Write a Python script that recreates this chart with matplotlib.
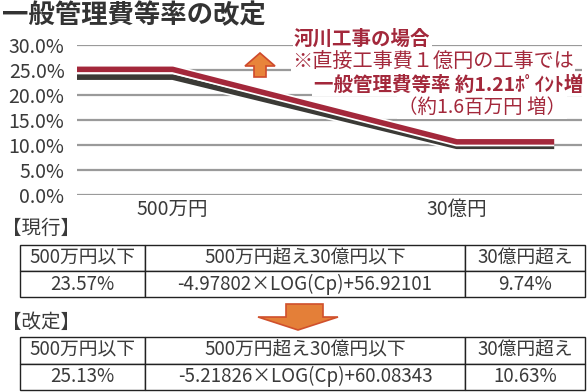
import matplotlib.pyplot as plt
import matplotlib.patheffects as pe
from matplotlib.patches import Polygon

plt.rcParams['font.family'] = ['Noto Sans CJK JP', 'DejaVu Sans']

W, H = 587, 392

# data: construction cost Cp (yen) and general admin cost rate (%)
cp_points = [5.8e5, 5e6, 3e9, 2.7e10]
rate_current = [23.57, 23.57, 9.74, 9.74]
rate_revised = [25.13, 25.13, 10.63, 10.63]
y_ticks = [0, 5, 10, 15, 20, 25, 30]
x_tick_pos = [5e6, 3e9]
x_tick_labels = ['500万円', '30億円']

col_headers = ['500万円以下', '500万円超え30億円以下', '30億円超え']
row_current = ['23.57%', '-4.97802×LOG(Cp)+56.92101', '9.74%']
row_revised = ['25.13%', '-5.21826×LOG(Cp)+60.08343', '10.63%']

RED = '#a3283b'
DARK = '#3b3a36'
TXT = '#3a3a3a'
GRID = '#9a9a9a'


def box(x0, y0, x1, y1):
    # pixel box (top-left origin) -> figure fraction rect
    return [x0 / W, 1 - y1 / H, (x1 - x0) / W, (y1 - y0) / H]


def pt(x, y):
    return (x / W, 1 - y / H)


fig = plt.figure(figsize=(W / 100, H / 100), dpi=100)

ax = fig.add_axes(box(77, 45, 582, 195))
ax.set_xscale('log')
ax.set_xlim(5.8e5, 5.05e10)
ax.set_ylim(0, 30)
for s in ax.spines.values():
    s.set_visible(False)
ax.set_yticks(y_ticks)
ax.set_yticklabels([f'{v:.1f}%' for v in y_ticks], fontsize=14, color=TXT)
ax.tick_params(axis='y', length=0, pad=9)
ax.minorticks_off()
ax.set_xticks(x_tick_pos)
ax.set_xticklabels(x_tick_labels, fontsize=14, color=TXT)
ax.tick_params(axis='x', length=0, pad=3)
ax.grid(axis='y', color=GRID, linewidth=1.6)
ax.set_axisbelow(True)

outline = [pe.Stroke(linewidth=6.5, foreground='white'), pe.Normal()]
ax.plot(cp_points, rate_current, color=DARK, linewidth=4,
        solid_capstyle='butt', path_effects=outline, zorder=3)
ax.plot(cp_points, rate_revised, color=RED, linewidth=4,
        solid_capstyle='butt', path_effects=outline, zorder=4)

# title
fig.text(2 / W, 1 - 16 / H, '一般管理費等率の改定', fontsize=19, fontweight='bold',
         color='#333333', va='center', ha='left')

# annotation
bb = dict(facecolor='white', edgecolor='none', pad=1)
fig.text(294 / W, 1 - 39 / H, '河川工事の場合', fontsize=14, fontweight='bold',
         color=RED, va='center', ha='left', bbox=bb)
fig.text(292 / W, 1 - 62 / H, '※直接工事費１億円の工事では', fontsize=14.5,
         color=RED, va='center', ha='left', bbox=bb)
fig.text(583 / W, 1 - 85 / H, '一般管理費等率 約1.21ﾎﾟｲﾝﾄ増', fontsize=14,
         fontweight='bold', color=RED, va='center', ha='right', bbox=bb)
fig.text(566 / W, 1 - 107 / H, '（約1.6百万円 増）', fontsize=14,
         color=RED, va='center', ha='right', bbox=bb)

# arrows
up = [pt(245, 66), pt(260, 53), pt(275, 66), pt(266, 66), pt(266, 77),
      pt(254, 77), pt(254, 66)]
fig.patches.append(Polygon(up, closed=True, transform=fig.transFigure,
                           facecolor='#e8843a', edgecolor='#cf4a2c', linewidth=1.2))
down = [pt(286, 304), pt(323, 304), pt(323, 317), pt(338, 317), pt(298, 330),
        pt(258, 317), pt(286, 317)]
fig.patches.append(Polygon(down, closed=True, transform=fig.transFigure,
                           facecolor='#e47f38', edgecolor='#d0502c', linewidth=1.2))

# tables
fig.text(2 / W, 1 - 228 / H, '【現行】', fontsize=14, color=TXT, va='center', ha='left')
fig.text(2 / W, 1 - 322 / H, '【改定】', fontsize=14, color=TXT, va='center', ha='left')

col_w = [125, 320, 120]
for (y0, y1), row in [((245, 297), row_current), ((337, 390), row_revised)]:
    tax = fig.add_axes(box(20, y0, 585, y1))
    tax.axis('off')
    tbl = tax.table(cellText=[col_headers, row], colWidths=[c / sum(col_w) for c in col_w],
                    cellLoc='center', bbox=[0, 0, 1, 1])
    tbl.auto_set_font_size(False)
    for cell in tbl.get_celld().values():
        cell.set_edgecolor('#222222')
        cell.set_linewidth(1.0)
        cell.get_text().set_fontsize(13.5)
        cell.get_text().set_color(TXT)

fig.savefig('out.png', dpi=100)
